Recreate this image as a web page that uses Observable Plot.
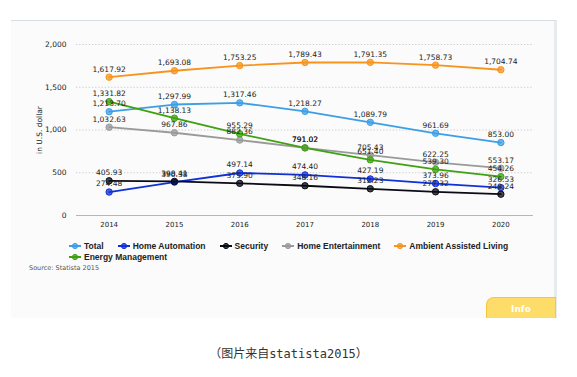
<!DOCTYPE html>
<html>
<head>
<meta charset="utf-8">
<script src="https://cdn.jsdelivr.net/npm/d3@7"></script>
<script src="https://cdn.jsdelivr.net/npm/@observablehq/plot@0.6"></script>
<style>
  html, body { margin: 0; padding: 0; background: #fff; }
  #page { position: relative; width: 577px; height: 377px; overflow: hidden; }
  #panel { position: absolute; left: 11px; top: 20px; width: 546px; height: 298px;
           background: #fbfbfb; border-top: 1px solid #d5dde3; border-right: 3px solid #e6ebef; box-sizing: border-box; }
  #chart { position: absolute; left: 0; top: 0; }
  #legend { position: absolute; left: 69px; top: 240px; width: 440px; display: flex; flex-wrap: wrap;
            column-gap: 14px; row-gap: 0px; font: bold 8.5px "Liberation Sans", Arial, sans-serif; color: #222; }
  .item { display: flex; align-items: center; height: 11px; white-space: nowrap; }
  .item svg { margin-right: 3px; }
  #source { position: absolute; left: 29px; top: 264px; font: 6.5px "DejaVu Sans", sans-serif; color: #555; }
  #info { position: absolute; left: 486px; top: 297px; width: 70px; height: 21px; box-sizing: border-box;
          background: #fddc6a; border: 1px solid #f2c93d; border-bottom: none; border-top-left-radius: 8px;
          color: #fff; font: bold 9px "DejaVu Sans", sans-serif; text-align: center; line-height: 22px; }
  #caption { position: absolute; left: 0; width: 577px; top: 344px; text-align: center;
             font: 12px "DejaVu Sans Mono", "Noto Sans CJK SC", monospace; color: #333; }
</style>
</head>
<body>
<div id="page">
  <div id="panel"></div>
  <div id="chart"></div>
  <div id="legend"></div>
  <div id="source">Source: Statista 2015</div>
  <div id="info">Info</div>
  <div id="caption">（图片来自statista2015）</div>
</div>
<script>
const years = [2014, 2015, 2016, 2017, 2018, 2019, 2020];
const seriesNames = ["Total", "Home Automation", "Security", "Home Entertainment", "Ambient Assisted Living", "Energy Management"];
const seriesColors = ["#3c9fe6", "#1030d8", "#0b0b16", "#9a9a9a", "#f7941d", "#3ea10f"];
const total = [1213.70, 1297.99, 1317.46, 1218.27, 1089.79, 961.69, 853.00];
const homeAutomation = [274.48, 390.38, 497.14, 474.40, 427.19, 373.96, 326.53];
const security = [405.93, 398.41, 375.90, 348.16, 312.23, 277.32, 249.24];
const homeEntertainment = [1032.63, 967.86, 882.36, 791.02, 705.43, 622.25, 553.17];
const ambientAssistedLiving = [1617.92, 1693.08, 1753.25, 1789.43, 1791.35, 1758.73, 1704.74];
const energyManagement = [1331.82, 1138.13, 955.29, 791.02, 651.40, 539.30, 454.26];
const yTicks = [0, 500, 1000, 1500, 2000];

const seriesValues = [total, homeAutomation, security, homeEntertainment, ambientAssistedLiving, energyManagement];
const data = [];
seriesNames.forEach((name, i) => {
  years.forEach((yr, j) => data.push({series: name, year: yr, value: seriesValues[i][j]}));
});

const fmt = d3.format(",.2f");
const color = {domain: seriesNames, range: seriesColors};

const chart = Plot.plot({
  width: 577,
  height: 240,
  marginLeft: 76,
  marginRight: 44,
  marginTop: 44,
  marginBottom: 25,
  style: {background: "transparent", fontFamily: "DejaVu Sans, sans-serif", color: "#222"},
  x: {type: "linear", domain: [2013.5, 2020.5], ticks: years, tickFormat: d => String(d), tickSize: 0, tickPadding: 7, label: null, fontSize: 7},
  y: {domain: [0, 2000], ticks: yTicks, tickFormat: d3.format(","), tickSize: 0, tickPadding: 10, label: "in U.S. dollar", labelAnchor: "center", labelArrow: "none", labelOffset: 40},
  color,
  marks: [
    Plot.ruleY(yTicks.filter(d => d > 0), {stroke: "#c8c8c8", strokeDasharray: "1.2,2", strokeWidth: 1}),
    Plot.ruleY([0], {stroke: "#b5b5b5", strokeWidth: 1}),
    Plot.axisX({ticks: years, tickFormat: d => String(d), tickSize: 0, tickPadding: 7, fontSize: 7, fill: "#222", label: null}),
    Plot.axisY({ticks: yTicks, tickFormat: d3.format(","), tickSize: 0, tickPadding: 10, fontSize: 7.5, fill: "#222", label: "in U.S. dollar", labelAnchor: "center", labelArrow: "none", labelOffset: 40}),
    Plot.line(data, {x: "year", y: "value", z: "series", stroke: "series", strokeWidth: 1.8}),
    Plot.dot(data, {x: "year", y: "value", fill: "series", stroke: "series", r: 3.2, strokeWidth: 1, fillOpacity: 0.75}),
    Plot.text(data, {x: "year", y: "value", text: d => fmt(d.value), dy: -8, fontSize: 7.5, fill: "#222"})
  ]
});
document.getElementById("chart").appendChild(chart);

const legend = document.getElementById("legend");
seriesNames.forEach((name, i) => {
  const item = document.createElement("div");
  item.className = "item";
  item.innerHTML = `<svg width="12" height="8"><line x1="0" x2="12" y1="4" y2="4" stroke="${seriesColors[i]}" stroke-width="2"/><circle cx="6" cy="4" r="2.6" fill="${seriesColors[i]}" fill-opacity="0.75" stroke="${seriesColors[i]}"/></svg><span>${name}</span>`;
  legend.appendChild(item);
});
</script>
</body>
</html>
